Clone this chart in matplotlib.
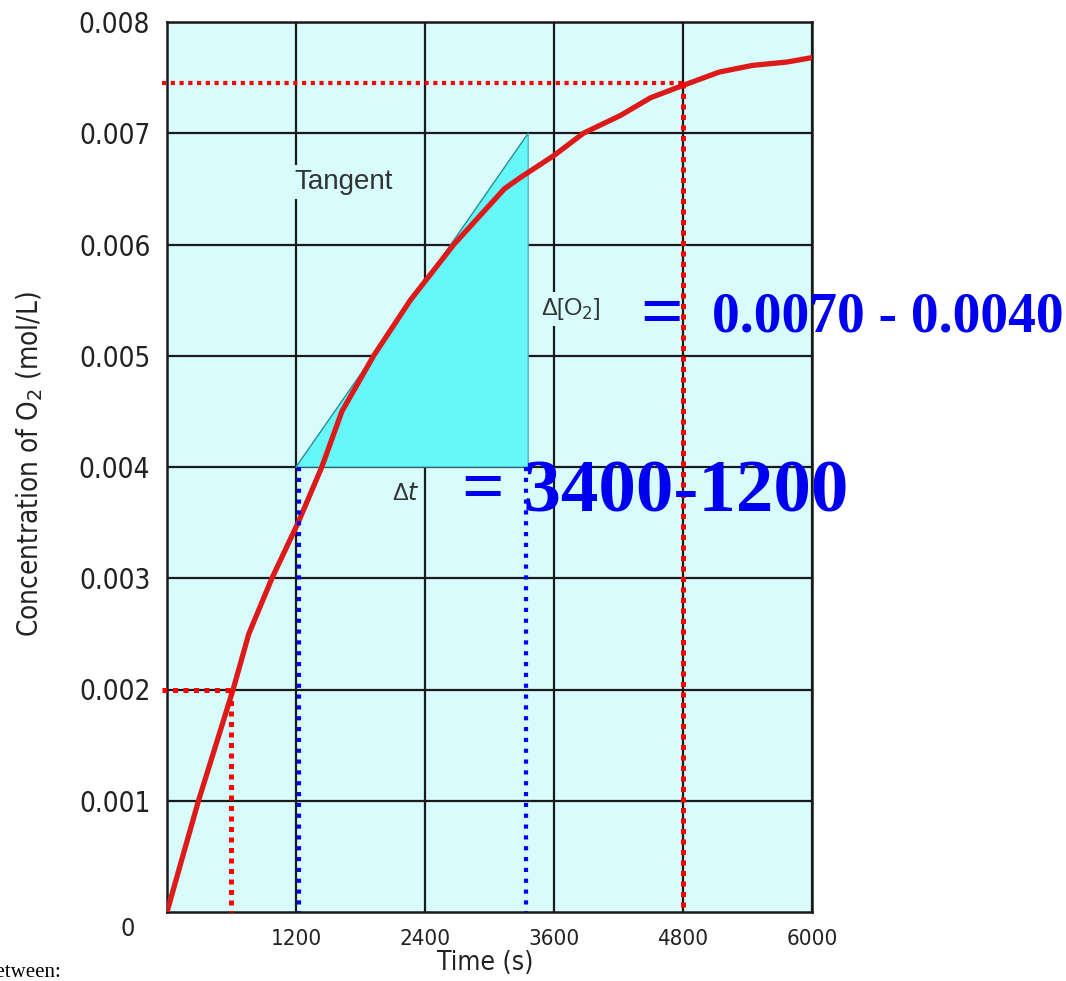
import matplotlib.pyplot as plt

# O2 concentration vs time
time_s = [0, 146, 293, 615, 761, 976, 1220, 1440, 1627, 1922, 2264, 2668,
          3138, 3284, 3600, 3873, 4218, 4500, 4800, 5137, 5447, 5766, 6000]
conc = [0, 0.0005, 0.001, 0.002, 0.0025, 0.003, 0.0035, 0.004, 0.0045, 0.005,
        0.0055, 0.006, 0.0065, 0.0066, 0.0068, 0.007, 0.00716, 0.00732,
        0.00743, 0.00755, 0.00761, 0.00764, 0.00768]

x_ticks = [1200, 2400, 3600, 4800, 6000]
x_labels = ["1200", "2400", "3600", "4800", "6000"]
y_ticks = [0.001, 0.002, 0.003, 0.004, 0.005, 0.006, 0.007, 0.008]
y_labels = ["0.001", "0.002", "0.003", "0.004", "0.005", "0.006", "0.007", "0.008"]

# tangent triangle
tri_t = [1200, 3360, 3360]
tri_c = [0.004, 0.007, 0.004]

# reading lines
early_t, early_c = 595, 0.002
late_t, late_c = 4800, 0.00745
blue_t = [1225, 3335]
blue_c = 0.004

W, H = 1066, 981
sans = ['Liberation Sans', 'DejaVu Sans']
serif = ['Liberation Serif', 'DejaVu Serif']
bg = '#d8fbfc'
cond = dict(family='DejaVu Sans', stretch='condensed', color='#222222')


def px(x, y):
    return x / W, 1 - y / H


fig = plt.figure(figsize=(W / 100, H / 100), dpi=100)
l, t_ = px(167, 22)
r, b = px(812, 912)
ax = fig.add_axes([l, b, r - l, t_ - b])
ax.set_facecolor(bg)
ax.set_xlim(0, 6000)
ax.set_ylim(0, 0.008)
ax.set_xticks(x_ticks)
ax.set_xticklabels(x_labels, fontsize=16, **cond)
ax.set_yticks(y_ticks)
ax.set_yticklabels(y_labels, fontsize=20, **cond)
ax.tick_params(length=0, pad=12)
ax.grid(True, color='#1a1a1a', lw=1.6)
ax.set_axisbelow(True)
for s in ax.spines.values():
    s.set_color('#1a1a1a')
    s.set_linewidth(1.8)

ax.fill(tri_t, tri_c, facecolor='#66f8f8', edgecolor='#3aa8b0', lw=0.8, zorder=1.5)
ax.plot(tri_t[:2], tri_c[:2], color='#2a8f99', lw=0.8, zorder=1.6)

ax.plot(time_s, conc, color='#dd1a1a', lw=3.8, zorder=4, solid_joinstyle='round')

red_dots = dict(color='#ff0000', lw=3.6, ls=(0, (1, 1.1)), clip_on=False, zorder=5)
ax.plot([-50, early_t], [early_c, early_c], **red_dots)
ax.plot([early_t, early_t], [early_c, 0], **red_dots)
ax.plot([-50, late_t], [late_c, late_c], **dict(red_dots, lw=3.0))
ax.plot([late_t, late_t], [late_c, 0], **red_dots)

blue_dots = dict(color='#0000ff', lw=3.0, ls=(0, (1, 1.6)), zorder=5)
for bt in blue_t:
    ax.plot([bt, bt], [blue_c, 0], **blue_dots)

# small labels inside the plot
box = dict(facecolor=bg, edgecolor='none', pad=3)
ax.text(*px(294, 182), "Tangent", transform=fig.transFigure, family=sans,
        fontsize=20, color='#333333', va='center', ha='left', bbox=box, zorder=3)
ax.text(*px(541, 309), "Δ[O$_2$]", transform=fig.transFigure, family=sans,
        fontsize=17, color='#333333', va='center', ha='left', bbox=box, zorder=3)
ax.text(*px(392, 494), "Δ$\\it{t}$", transform=fig.transFigure, family=sans,
        fontsize=17, color='#333333', va='center', ha='left', zorder=3)

# corner zero and axis titles
fig.text(*px(128, 929), "0", fontsize=18, ha='center', va='center', **cond)
fig.text(*px(30, 464), "Concentration of O$_2$ (mol/L)", fontsize=20,
         rotation=90, ha='center', va='center', **cond)
fig.text(*px(485, 963), "Time (s)", fontsize=19, ha='center', va='center', **cond)
fig.text(*px(-15, 977), "between:", family=serif, fontsize=15, color='black',
         ha='left', va='baseline')

# big blue working
blue = '#0000f0'
fig.text(*px(640, 336), "=", family=serif, fontweight='bold', fontsize=54,
         color=blue, ha='left', va='baseline', zorder=6)
fig.text(*px(712, 332), "0.0070 - 0.0040", family=serif, fontweight='bold',
         fontsize=40, color=blue, ha='left', va='baseline', zorder=6)
fig.text(*px(462, 512), "= 3400-1200", family=serif, fontweight='bold',
         fontsize=54, color=blue, ha='left', va='baseline', zorder=6)

fig.savefig("out.png", dpi=100)
